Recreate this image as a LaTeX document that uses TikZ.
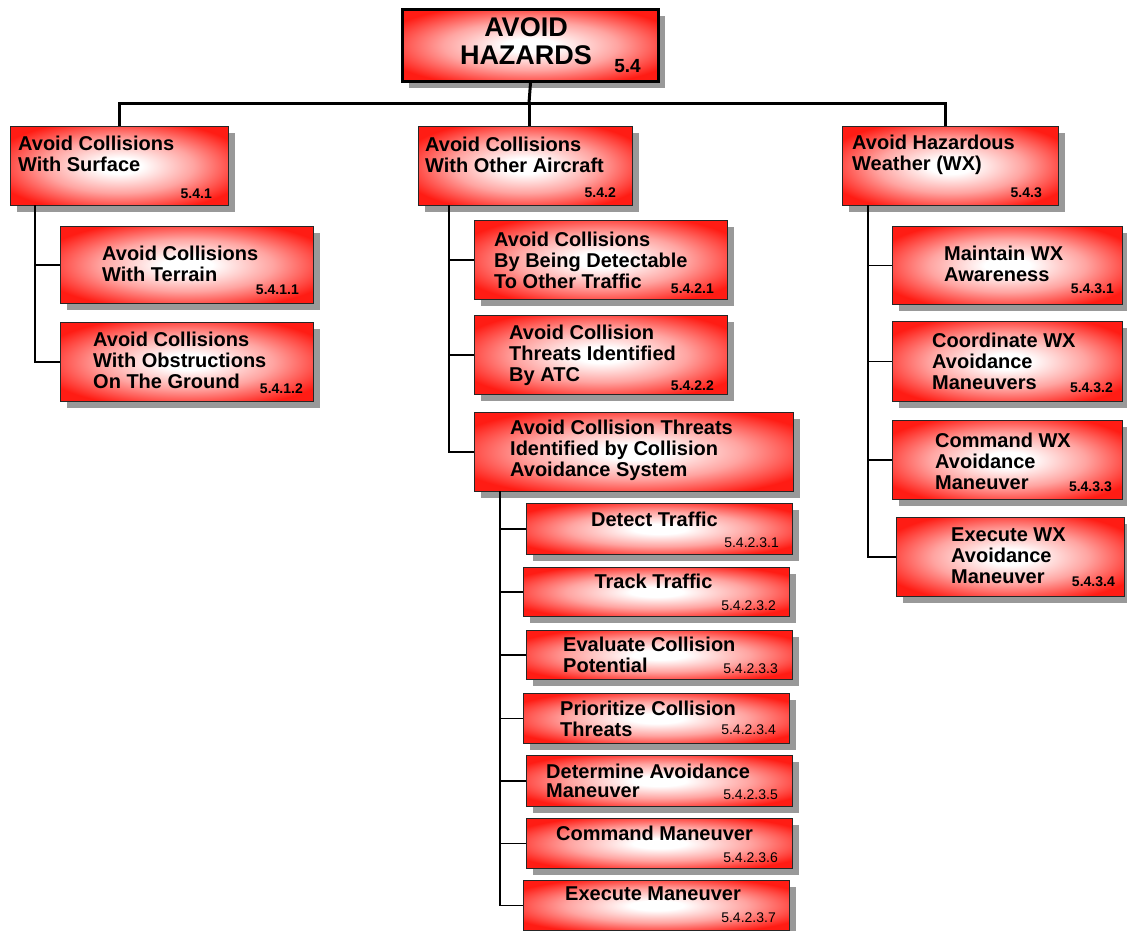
\documentclass[tikz,border=0pt]{standalone}
\usepackage{fontspec}
\setmainfont{Liberation Sans}
\usepackage{tikz}
\usetikzlibrary{shadows}
\definecolor{boxred}{RGB}{255,28,20}
\pgfdeclareradialshading{boxglow}{\pgfpoint{0bp}{0bp}}{color(0bp)=(white); color(5bp)=(white); color(17bp)=(boxred!40!white); color(30bp)=(boxred); color(50bp)=(boxred)}
\tikzset{
  box/.style={draw=black!85, line width=1pt, shading=boxglow, anchor=north west, inner sep=0pt,
    drop shadow={shadow xshift=6pt, shadow yshift=-6pt, fill=black!40, opacity=1}},
  title/.style={font=\fontsize{20}{21}\selectfont\bfseries, align=left, inner sep=0pt, anchor=west},
  num/.style={font=\fontsize{14}{14}\selectfont\bfseries, inner sep=0pt, anchor=east},
  subnum/.style={font=\fontsize{14}{14}\selectfont, inner sep=0pt, anchor=east},
  bus/.style={line width=3pt},
  link/.style={line width=1.1pt}
}

\begin{document}
\begin{tikzpicture}[x=1pt,y=-1pt]
  \useasboundingbox (0,0) rectangle (1127,930);

  \node[box, draw=black, line width=3pt, minimum width=256pt, minimum height=72pt] (top) at (401,8) {};
  \node[title, anchor=center, align=center, font=\fontsize{27}{28}\selectfont\bfseries] (topT) at (526,41) {AVOID\\HAZARDS};
  \node[num, font=\fontsize{19}{19}\selectfont\bfseries] (topN) at (641,66) {5.4};

  \node[box, minimum width=218pt, minimum height=79pt] (sfc) at (10,126) {};
  \node[title] (sfcT) at (18,154) {Avoid Collisions\\With Surface};
  \node[num] (sfcN) at (212,194) {5.4.1};
  \node[box, minimum width=214pt, minimum height=79pt] (oac) at (418,126) {};
  \node[title] (oacT) at (425,155) {Avoid Collisions\\With Other Aircraft};
  \node[num] (oacN) at (616,193) {5.4.2};
  \node[box, minimum width=216pt, minimum height=79pt] (wx) at (842,126) {};
  \node[title] (wxT) at (852,155) {Avoid Hazardous\\Weather (WX)};
  \node[num] (wxN) at (1042,193) {5.4.3};

  \coordinate (bus) at (529,103);
  \draw[bus] (top.south) -- (bus);
  \draw[bus] (sfc.north) |- (bus);
  \draw[bus] ([xshift=-5pt]wx.north) |- (bus);
  \draw[bus] (bus) -- (bus |- oac.north);

  \node[box, minimum width=253pt, minimum height=77pt] (ter) at (60,226) {};
  \node[title] (terT) at (102,264) {Avoid Collisions\\With Terrain};
  \node[num] (terN) at (299,290) {5.4.1.1};
  \node[box, minimum width=253pt, minimum height=79pt] (obs) at (60,322) {};
  \node[title] (obsT) at (93,360) {Avoid Collisions\\With Obstructions\\On The Ground};
  \node[num] (obsN) at (303,389) {5.4.1.2};

  \node[box, minimum width=253pt, minimum height=79pt] (det) at (474,220) {};
  \node[title] (detT) at (494,260) {Avoid Collisions\\By Being Detectable\\To Other Traffic};
  \node[num] (detN) at (714,289) {5.4.2.1};
  \node[box, minimum width=253pt, minimum height=79pt] (atc) at (474,315) {};
  \node[title] (atcT) at (509,355) {Avoid Collision\\Threats Identified\\By ATC};
  \node[num] (atcN) at (714,386) {5.4.2.2};
  \node[box, minimum width=319pt, minimum height=79pt] (cas) at (474,412) {};
  \node[title] (casT) at (510,450) {Avoid Collision Threats\\Identified by Collision\\Avoidance System};

  \node[box, minimum width=266pt, minimum height=51pt] (dtr) at (526,503) {};
  \node[title, anchor=center] (dtrT) at (654.5,519) {Detect Traffic};
  \node[subnum] (dtrN) at (779,543) {5.4.2.3.1};
  \node[box, minimum width=266pt, minimum height=49pt] (trk) at (523,567) {};
  \node[title, anchor=center] (trkT) at (653.5,581) {Track Traffic};
  \node[subnum] (trkN) at (776,606) {5.4.2.3.2};
  \node[box, minimum width=266pt, minimum height=49pt] (evl) at (526,630) {};
  \node[title] (evlT) at (563,655) {Evaluate Collision\\Potential};
  \node[subnum] (evlN) at (778,669) {5.4.2.3.3};
  \node[box, minimum width=266pt, minimum height=50pt] (pri) at (523,693) {};
  \node[title] (priT) at (560,719) {Prioritize Collision\\Threats};
  \node[subnum] (priN) at (776,730) {5.4.2.3.4};
  \node[box, minimum width=266pt, minimum height=51pt] (dam) at (526,755) {};
  \node[title, font=\fontsize{20}{19}\selectfont\bfseries] (damT) at (546,781) {Determine Avoidance\\Maneuver};
  \node[subnum] (damN) at (778,795) {5.4.2.3.5};
  \node[box, minimum width=266pt, minimum height=50pt] (cmd) at (526,818) {};
  \node[title, anchor=center] (cmdT) at (654.5,833) {Command Maneuver};
  \node[subnum] (cmdN) at (778,858) {5.4.2.3.6};
  \node[box, minimum width=266pt, minimum height=50pt] (exe) at (523,880) {};
  \node[title, anchor=center] (exeT) at (653,894) {Execute Maneuver};
  \node[subnum] (exeN) at (776,918) {5.4.2.3.7};

  \node[box, minimum width=230pt, minimum height=78pt] (wxa) at (892,226) {};
  \node[title] (wxaT) at (944,264) {Maintain WX\\Awareness};
  \node[num] (wxaN) at (1114,289) {5.4.3.1};
  \node[box, minimum width=230pt, minimum height=80pt] (wxb) at (892,321) {};
  \node[title] (wxbT) at (932,361) {Coordinate WX\\Avoidance\\Maneuvers};
  \node[num] (wxbN) at (1113,388) {5.4.3.2};
  \node[box, minimum width=230pt, minimum height=79pt] (wxc) at (892,420) {};
  \node[title] (wxcT) at (935,461) {Command WX\\Avoidance\\Maneuver};
  \node[num] (wxcN) at (1112,487) {5.4.3.3};
  \node[box, minimum width=228pt, minimum height=79pt] (wxd) at (896,517) {};
  \node[title] (wxdT) at (951,556) {Execute WX\\Avoidance\\Maneuver};
  \node[num] (wxdN) at (1115,582) {5.4.3.4};

  \coordinate (sfcS) at (35,205);
  \draw[link] (sfcS) |- (ter.west);
  \draw[link] (sfcS) |- (obs.west);
  \coordinate (oacS) at (449,205);
  \foreach \n in {det,atc,cas}
    \draw[link] (oacS) |- (\n.west);
  \coordinate (casS) at (500,491);
  \foreach \n in {dtr,trk,evl,pri,dam,cmd,exe}
    \draw[link] (casS) |- (\n.west);
  \coordinate (wxS) at (868,205);
  \foreach \n in {wxa,wxb,wxc,wxd}
    \draw[link] (wxS) |- (\n.west);
\end{tikzpicture}
\end{document}
